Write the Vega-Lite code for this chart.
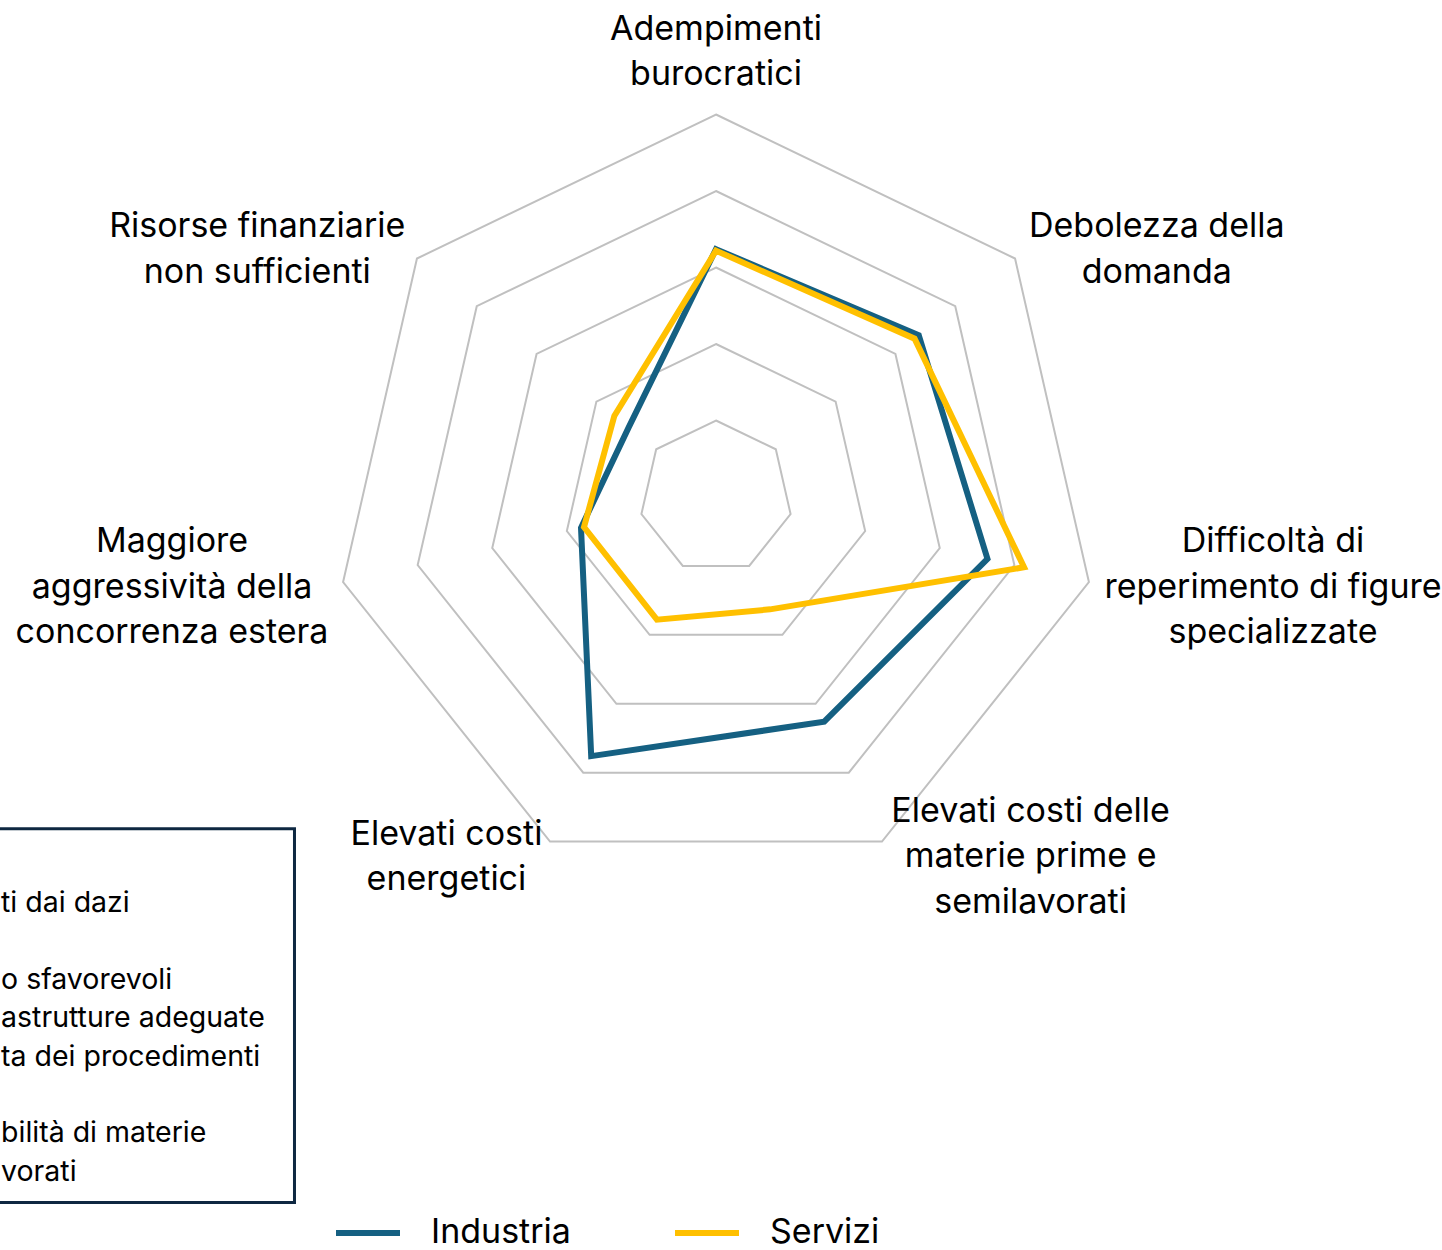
{
  "$schema": "https://vega.github.io/schema/vega-lite/v6.json",
  "width": 1442,
  "height": 1250,
  "padding": 0,
  "autosize": {"type": "none"},
  "background": "white",
  "config": {"view": {"stroke": null}, "font": "Inter"},
  "datasets": {
    "serie": [
      {"settore": "Industria", "idx": 0, "voce": "Adempimenti burocratici", "valore": 32.4},
      {"settore": "Industria", "idx": 1, "voce": "Debolezza della domanda", "valore": 33.9},
      {"settore": "Industria", "idx": 2, "voce": "Difficoltà di reperimento di figure specializzate", "valore": 36.4},
      {"settore": "Industria", "idx": 3, "voce": "Elevati costi delle materie prime e semilavorati", "valore": 32.6},
      {"settore": "Industria", "idx": 4, "voce": "Elevati costi energetici", "valore": 37.6},
      {"settore": "Industria", "idx": 5, "voce": "Maggiore aggressività della concorrenza estera", "valore": 18.1},
      {"settore": "Industria", "idx": 6, "voce": "Risorse finanziarie non sufficienti", "valore": 14.6},
      {"settore": "Servizi", "idx": 0, "voce": "Adempimenti burocratici", "valore": 32.2},
      {"settore": "Servizi", "idx": 1, "voce": "Debolezza della domanda", "valore": 33.2},
      {"settore": "Servizi", "idx": 2, "voce": "Difficoltà di reperimento di figure specializzate", "valore": 41.3},
      {"settore": "Servizi", "idx": 3, "voce": "Elevati costi delle materie prime e semilavorati", "valore": 16.3},
      {"settore": "Servizi", "idx": 4, "voce": "Elevati costi energetici", "valore": 17.8},
      {"settore": "Servizi", "idx": 5, "voce": "Maggiore aggressività della concorrenza estera", "valore": 17.7},
      {"settore": "Servizi", "idx": 6, "voce": "Risorse finanziarie non sufficienti", "valore": 17.0}
    ],
    "anelli": [
      {"livello": 10, "idx": [0, 1, 2, 3, 4, 5, 6]},
      {"livello": 20, "idx": [0, 1, 2, 3, 4, 5, 6]},
      {"livello": 30, "idx": [0, 1, 2, 3, 4, 5, 6]},
      {"livello": 40, "idx": [0, 1, 2, 3, 4, 5, 6]},
      {"livello": 50, "idx": [0, 1, 2, 3, 4, 5, 6]}
    ],
    "etichette": [
      {"idx": 0, "testo": "Adempimenti\nburocratici"},
      {"idx": 1, "testo": "Debolezza della\ndomanda"},
      {"idx": 2, "testo": "Difficoltà di\nreperimento di figure\nspecializzate"},
      {"idx": 3, "testo": "Elevati costi delle\nmaterie prime e\nsemilavorati"},
      {"idx": 4, "testo": "Elevati costi\nenergetici"},
      {"idx": 5, "testo": "Maggiore\naggressività della\nconcorrenza estera"},
      {"idx": 6, "testo": "Risorse finanziarie\nnon sufficienti"}
    ],
    "riquadro": [
      {"blocco": 1, "testo": "ti dai dazi"},
      {"blocco": 2, "testo": "o sfavorevoli\nastrutture adeguate\nta dei procedimenti"},
      {"blocco": 3, "testo": "bilità di materie\nvorati"}
    ]
  },
  "layer": [
    {
      "data": {"values": [{"riquadro": "legenda"}]},
      "mark": {"type": "rect", "fill": "white", "stroke": "#0E2841", "strokeWidth": 3},
      "encoding": {
        "x": {"datum": -95.5, "type": "quantitative", "scale": {"domain": [-93.595, 94.902], "nice": false, "zero": false}, "axis": null},
        "x2": {"datum": -55.1},
        "y": {"datum": -43.36, "type": "quantitative", "scale": {"domain": [-98.431, 64.967], "nice": false, "zero": false}, "axis": null},
        "y2": {"datum": -92.22}
      }
    },
    {
      "data": {"name": "riquadro"},
      "mark": {"type": "text", "align": "left", "baseline": "middle", "lineBreak": "\n", "lineHeight": 38.5, "fontSize": 28.5, "font": "Inter", "color": "#000000"},
      "encoding": {
        "x": {"datum": -93.46, "type": "quantitative", "scale": {"domain": [-93.595, 94.902], "nice": false, "zero": false}, "axis": null},
        "text": {"field": "testo"}
      },
      "layer": [
        {"transform": [{"filter": "datum.blocco == 1"}], "mark": {"type": "text", "align": "left", "baseline": "middle", "lineBreak": "\n", "lineHeight": 38.5, "fontSize": 28.5, "font": "Inter", "color": "#000000"},
         "encoding": {"y": {"datum": -53.03, "type": "quantitative", "scale": {"domain": [-98.431, 64.967], "nice": false, "zero": false}, "axis": null}}},
        {"transform": [{"filter": "datum.blocco == 2"}], "mark": {"type": "text", "align": "left", "baseline": "middle", "lineBreak": "\n", "lineHeight": 38.5, "fontSize": 28.5, "font": "Inter", "color": "#000000"},
         "encoding": {"y": {"datum": -63.1, "type": "quantitative", "scale": {"domain": [-98.431, 64.967], "nice": false, "zero": false}, "axis": null}}},
        {"transform": [{"filter": "datum.blocco == 3"}], "mark": {"type": "text", "align": "left", "baseline": "middle", "lineBreak": "\n", "lineHeight": 38.5, "fontSize": 28.5, "font": "Inter", "color": "#000000"},
         "encoding": {"y": {"datum": -83.2, "type": "quantitative", "scale": {"domain": [-98.431, 64.967], "nice": false, "zero": false}, "axis": null}}}
      ]
    },
    {
      "data": {"name": "anelli"},
      "transform": [
        {"flatten": ["idx"]},
        {"calculate": "datum.livello * sin(datum.idx * 2 * PI / 7)", "as": "px"},
        {"calculate": "datum.livello * cos(datum.idx * 2 * PI / 7)", "as": "py"}
      ],
      "mark": {"type": "line", "interpolate": "linear-closed", "stroke": "#C0C0C0", "strokeWidth": 2},
      "encoding": {
        "x": {"field": "px", "type": "quantitative", "scale": {"domain": [-93.595, 94.902], "nice": false, "zero": false}, "axis": null},
        "y": {"field": "py", "type": "quantitative", "scale": {"domain": [-98.431, 64.967], "nice": false, "zero": false}, "axis": null},
        "detail": {"field": "livello", "type": "nominal"},
        "order": {"field": "idx", "type": "quantitative"}
      }
    },
    {
      "data": {"name": "serie"},
      "transform": [
        {"calculate": "datum.valore * sin(datum.idx * 2 * PI / 7)", "as": "px"},
        {"calculate": "datum.valore * cos(datum.idx * 2 * PI / 7)", "as": "py"}
      ],
      "mark": {"type": "line", "interpolate": "linear-closed", "strokeWidth": 6},
      "encoding": {
        "x": {"field": "px", "type": "quantitative", "scale": {"domain": [-93.595, 94.902], "nice": false, "zero": false}, "axis": null},
        "y": {"field": "py", "type": "quantitative", "scale": {"domain": [-98.431, 64.967], "nice": false, "zero": false}, "axis": null},
        "color": {
          "field": "settore", "type": "nominal",
          "scale": {"domain": ["Industria", "Servizi"], "range": ["#156082", "#FFC000"]},
          "legend": {
            "orient": "none", "legendX": 333, "legendY": 1198, "direction": "horizontal", "title": null,
            "symbolType": "stroke", "symbolStrokeWidth": 6, "symbolSize": 4096,
            "labelFontSize": 34, "labelFont": "Inter", "labelColor": "#000000", "labelOffset": 28,
            "labelLimit": 400, "columnPadding": 92, "padding": 0
          }
        },
        "order": {"field": "idx", "type": "quantitative"}
      }
    },
    {
      "data": {"name": "etichette"},
      "transform": [
        {"calculate": "52.29 * sin(datum.idx * 2 * PI / 7)", "as": "px"},
        {"calculate": "52.29 * cos(datum.idx * 2 * PI / 7)", "as": "py"}
      ],
      "layer": [
        {"transform": [{"filter": "datum.idx == 0"}], "mark": {"type": "text", "align": "center", "baseline": "middle", "lineBreak": "\n", "lineHeight": 45.5, "fontSize": 34, "font": "Inter", "color": "#000000", "dy": -67}},
        {"transform": [{"filter": "datum.idx == 1"}], "mark": {"type": "text", "align": "center", "baseline": "middle", "lineBreak": "\n", "lineHeight": 45.5, "fontSize": 34, "font": "Inter", "color": "#000000", "dx": 128, "dy": -20.5}},
        {"transform": [{"filter": "datum.idx == 2"}], "mark": {"type": "text", "align": "center", "baseline": "middle", "lineBreak": "\n", "lineHeight": 45.5, "fontSize": 34, "font": "Inter", "color": "#000000", "dx": 167, "dy": -44}},
        {"transform": [{"filter": "datum.idx == 3"}], "mark": {"type": "text", "align": "center", "baseline": "middle", "lineBreak": "\n", "lineHeight": 45.5, "fontSize": 34, "font": "Inter", "color": "#000000", "dx": 141, "dy": -45.5}},
        {"transform": [{"filter": "datum.idx == 4"}], "mark": {"type": "text", "align": "center", "baseline": "middle", "lineBreak": "\n", "lineHeight": 45.5, "fontSize": 34, "font": "Inter", "color": "#000000", "dx": -96, "dy": -22.5}},
        {"transform": [{"filter": "datum.idx == 5"}], "mark": {"type": "text", "align": "center", "baseline": "middle", "lineBreak": "\n", "lineHeight": 45.5, "fontSize": 34, "font": "Inter", "color": "#000000", "dx": -154, "dy": -44}},
        {"transform": [{"filter": "datum.idx == 6"}], "mark": {"type": "text", "align": "center", "baseline": "middle", "lineBreak": "\n", "lineHeight": 45.5, "fontSize": 34, "font": "Inter", "color": "#000000", "dx": -146, "dy": -20.5}}
      ],
      "encoding": {
        "x": {"field": "px", "type": "quantitative", "scale": {"domain": [-93.595, 94.902], "nice": false, "zero": false}, "axis": null},
        "y": {"field": "py", "type": "quantitative", "scale": {"domain": [-98.431, 64.967], "nice": false, "zero": false}, "axis": null},
        "text": {"field": "testo"}
      }
    }
  ]
}
